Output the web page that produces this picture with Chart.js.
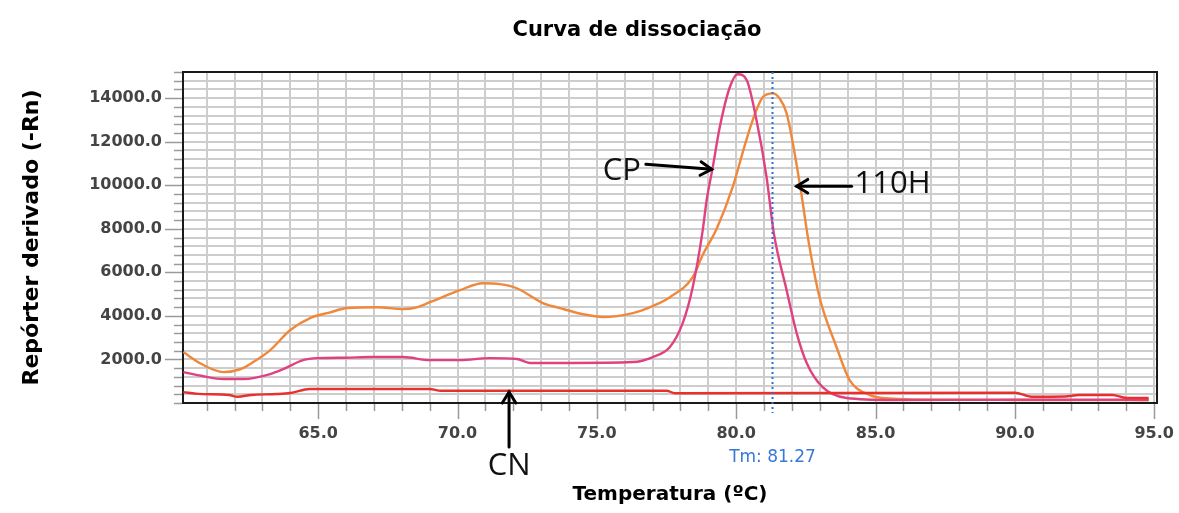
<!DOCTYPE html>
<html><head><meta charset="utf-8">
<style>html,body{margin:0;padding:0;background:#fff}#wrap{width:1179px;height:513px;position:relative;background:#fff}</style>
<script src="https://cdn.jsdelivr.net/npm/chart.js@4.4.1/dist/chart.umd.min.js"></script>
</head><body><div id="wrap"><canvas id="c" width="1179" height="513"></canvas></div>
<script>
// ---- data ----
const chartTitle = 'Curva de dissociação';
const xTitle = 'Temperatura (ºC)';
const yTitle = 'Repórter derivado (-Rn)';

const h110Temp  = [60.16,60.8,61.6,62.2,62.67,63.28,64.0,64.71,65.4,66.04,67.11,68.05,68.5,69.01,70.09,70.91,71.52,72.13,73.06,73.67,74.5,75.21,76.29,77.0,77.62,78.44,78.8,79.3,79.87,80.3,80.59,80.95,81.31,81.55,81.81,82.28,82.6,82.99,83.6,84.07,84.78,85.25,86.0,88.0,90.0,92.0,94.0,94.8];
const h110Value = [2340,1800,1420,1550,1880,2430,3350,3900,4150,4360,4400,4310,4380,4630,5180,5500,5460,5270,4590,4360,4080,3950,4130,4450,4860,5780,6800,8000,9900,11800,12980,14040,14220,14000,13300,10090,7400,4860,2570,1055,370,230,180,150,140,130,130,120];

const cpTemp  = [60.16,60.8,61.6,62.31,63.28,63.75,64.46,64.96,66.0,66.86,68.05,69.01,70.09,71.16,72.13,72.6,74.03,76.29,77.01,77.62,78.08,78.44,78.8,78.94,79.16,79.41,79.77,80.05,80.38,80.73,81.09,81.35,81.81,82.17,82.53,83.1,83.96,85.61,90.0,94.8];
const cpValue = [1420,1250,1100,1100,1330,1560,1970,2060,2080,2110,2110,1970,1970,2060,2020,1840,1840,1880,2110,2570,3670,5320,7940,9310,10830,12660,14500,15100,14820,12980,10370,7800,5180,3210,1840,730,230,140,150,150];

const cnTemp  = [60.16,60.7,61.8,62.1,62.6,63.5,64.0,64.7,69.0,69.4,77.5,77.8,90.0,90.6,91.8,92.3,93.5,94.0,94.8];
const cnValue = [500,420,370,290,370,410,460,640,640,560,560,450,470,290,300,370,370,230,230];

const xLabelTicks = [65, 70, 75, 80, 85, 90, 95];
const yLabelTicks = [2000, 4000, 6000, 8000, 10000, 12000, 14000];
const tmValue = 81.27;
const tmLabel = 'Tm: 81.27';

// annotations: text + arrow, positions in data units
const notes = [
  {text:'CP',   tx:75.9,  ty:10640, fx:76.76, fy:10960, ax:79.12, ay:10730},
  {text:'110H', tx:85.61, ty:10050, fx:84.14, fy:9954,  ax:82.17, ay:9954},
  {text:'CN',   tx:71.85, ty:-2890, fx:71.85, fy:-2018, ax:71.85, ay:505}
];

const pts = (t, v) => t.map((x, i) => ({x, y: v[i]}));

function arrow(ctx, x1, y1, x2, y2) {
  const ang = Math.atan2(y2 - y1, x2 - x1), h = 13, w = 0.55;
  ctx.beginPath(); ctx.moveTo(x1, y1); ctx.lineTo(x2, y2); ctx.stroke();
  ctx.beginPath();
  ctx.moveTo(x2 - h * Math.cos(ang - w), y2 - h * Math.sin(ang - w));
  ctx.lineTo(x2, y2);
  ctx.lineTo(x2 - h * Math.cos(ang + w), y2 - h * Math.sin(ang + w));
  ctx.stroke();
}

const decor = {
  id: 'decor',
  afterDatasetsDraw(chart) {
    const {ctx, chartArea: a, scales: {x, y}} = chart;
    ctx.save();
    // top & right frame
    ctx.strokeStyle = '#1a1a1a'; ctx.lineWidth = 2;
    ctx.beginPath(); ctx.moveTo(a.left, a.top); ctx.lineTo(a.right, a.top); ctx.lineTo(a.right, a.bottom); ctx.stroke();
    // tick marks
    ctx.strokeStyle = '#9a9a9a'; ctx.lineWidth = 1.5;
    y.ticks.forEach(t => {
      const py = Math.round(y.getPixelForValue(t.value)) + 0.5;
      const len = yLabelTicks.includes(t.value) ? 18 : 9;
      ctx.beginPath(); ctx.moveTo(a.left - len, py); ctx.lineTo(a.left - 1, py); ctx.stroke();
    });
    x.ticks.forEach(t => {
      const px = Math.round(x.getPixelForValue(t.value)) + 0.5;
      const len = xLabelTicks.includes(t.value) ? 16 : 8;
      ctx.beginPath(); ctx.moveTo(px, a.bottom + 1); ctx.lineTo(px, a.bottom + len); ctx.stroke();
    });
    // Tm dotted line
    const tx = Math.round(x.getPixelForValue(tmValue)) + 0.5;
    ctx.strokeStyle = '#2c6fd8'; ctx.lineWidth = 2; ctx.setLineDash([2, 3]);
    ctx.beginPath(); ctx.moveTo(tx, a.top); ctx.lineTo(tx, a.bottom + 10); ctx.stroke();
    ctx.setLineDash([]);
    ctx.fillStyle = '#3878d8'; ctx.font = '17px "DejaVu Sans"';
    ctx.textAlign = 'center'; ctx.textBaseline = 'middle';
    ctx.fillText(tmLabel, tx, y.getPixelForValue(-2523));
    // annotations
    ctx.strokeStyle = '#000'; ctx.fillStyle = '#111'; ctx.lineWidth = 3; ctx.lineCap = 'round';
    ctx.font = '31px "Open Sans"';
    notes.forEach(n => {
      arrow(ctx, x.getPixelForValue(n.fx), y.getPixelForValue(n.fy), x.getPixelForValue(n.ax), y.getPixelForValue(n.ay));
      ctx.fillText(n.text, x.getPixelForValue(n.tx), y.getPixelForValue(n.ty));
    });
    // chart title
    ctx.fillStyle = '#000'; ctx.font = 'bold 21px "DejaVu Sans"';
    ctx.fillText(chartTitle, 637, 31);
    ctx.restore();
  }
};

const tickFont = {family: 'DejaVu Sans', size: 16, weight: 'bold'};

new Chart(document.getElementById('c'), {
  type: 'line',
  data: {
    datasets: [
      {label: 'CN', data: pts(cnTemp, cnValue), borderColor: '#e8302e'},
      {label: 'CP', data: pts(cpTemp, cpValue), borderColor: '#e0417f'},
      {label: '110H', data: pts(h110Temp, h110Value), borderColor: '#f0883c'}
    ].map(d => Object.assign(d, {borderWidth: 2.4, pointRadius: 0, fill: false, cubicInterpolationMode: 'monotone'}))
  },
  options: {
    responsive: false,
    animation: false,
    layout: {padding: {top: 72, left: 19, right: 22, bottom: 0}},
    plugins: {legend: {display: false}, tooltip: {enabled: false}, title: {display: false}},
    scales: {
      x: {
        type: 'linear', min: 60.15, max: 95.1,
        afterBuildTicks: s => { const t = []; for (let v = 61; v <= 95; v++) t.push({value: v}); s.ticks = t; },
        afterFit: s => { s.height = 110; s.paddingLeft = 0; s.paddingRight = 0; },
        ticks: {autoSkip: false, maxRotation: 0, padding: 21, color: '#444', font: tickFont,
                callback: v => xLabelTicks.includes(v) ? v.toFixed(1) : ''},
        grid: {color: '#cdcdcd', lineWidth: 2, drawTicks: false},
        border: {display: true, color: '#1a1a1a', width: 2},
        title: {display: true, text: xTitle, color: '#000', font: {family: 'DejaVu Sans', size: 20, weight: 'bold'}, padding: {top: 0, bottom: 6}}
      },
      y: {
        type: 'linear', min: 0, max: 15200,
        afterFit: s => { s.width = 164; s.paddingTop = 0; s.paddingBottom = 0; },
        ticks: {stepSize: 400, autoSkip: false, padding: 21, color: '#444', font: tickFont,
                callback: v => yLabelTicks.includes(v) ? v.toFixed(1) : ''},
        grid: {color: '#cdcdcd', lineWidth: 2, drawTicks: false},
        border: {display: true, color: '#1a1a1a', width: 2},
        title: {display: true, text: yTitle, color: '#000', font: {family: 'DejaVu Sans', size: 22, weight: 'bold'}, padding: {top: 0, bottom: 0}}
      }
    }
  },
  plugins: [decor]
});
</script></body></html>
